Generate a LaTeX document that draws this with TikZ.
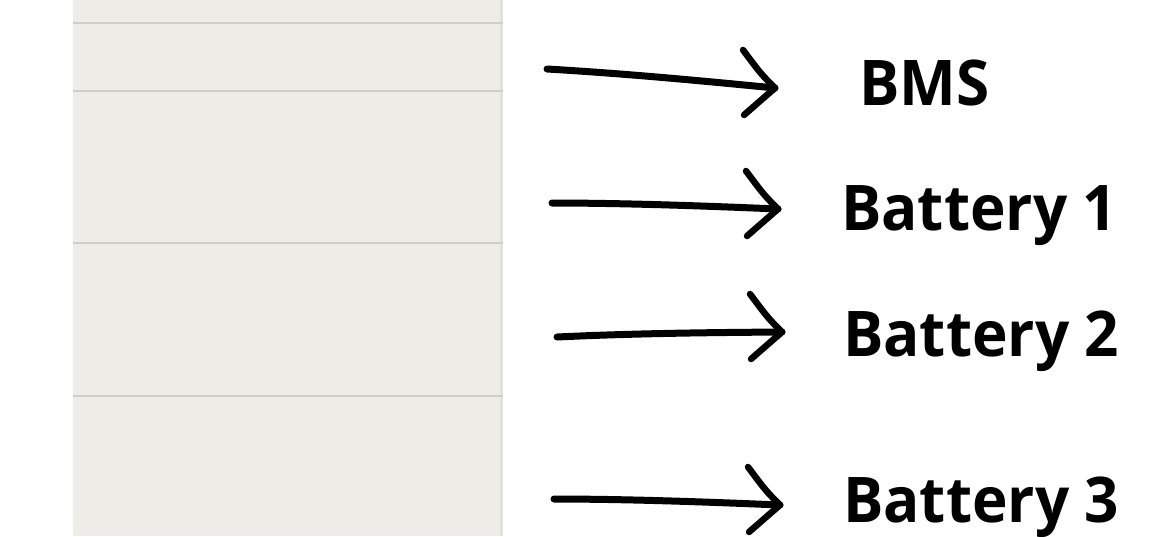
\documentclass[tikz,border=0pt]{standalone}
\usepackage{fontspec}
\setmainfont{Open Sans}
\definecolor{panelgrey}{HTML}{EDECE6}
\definecolor{paneledge}{HTML}{E3E2DC}
\definecolor{rulegrey}{HTML}{CFCECA}
\tikzset{
	label/.style={anchor=base west,inner sep=0pt,font=\fontsize{63}{63}\selectfont\bfseries},
	shaft/.style={line width=7pt,line cap=round},
	barb/.style={line width=6.5pt,line cap=round}
}
% hand drawn arrow: #1 start, #2 tip
\newcommand\sketcharrow[2]{
	\draw[shaft] (#1) .. controls ($(#1)!0.35!(#2)+(0,-2)$) and ($(#1)!0.7!(#2)+(0,-1)$) .. (#2);
	\draw[barb] (#2) .. controls ++(-14,-14) .. ++(-32,-38);
	\draw[barb] (#2) -- ++(-31,27);
}
\newcommand\narrow[1]{\scalebox{0.955}[1]{#1}}
\usetikzlibrary{calc}
\begin{document}
\begin{tikzpicture}[x=1pt,y=-1pt]
	\useasboundingbox (0,0) rectangle (1170,536);
	% panel on the left
	\fill[panelgrey] (73,0) rectangle (503,536);
	\fill[paneledge] (500,0) rectangle (503,536);
	\foreach \y in {23,91,243,396}
	\draw[rulegrey,line width=1.5pt] (73,\y)--(503,\y);
	% arrows
	\coordinate (bmsS) at (547,69);  \coordinate (bmsT) at (775,88);
	\coordinate (batAS) at (552,203); \coordinate (batAT) at (778,209);
	\coordinate (batBS) at (557,337); \coordinate (batBT) at (782,332);
	\coordinate (batCS) at (554,499); \coordinate (batCT) at (780,505);
	\sketcharrow{bmsS}{bmsT}
	\sketcharrow{batAS}{batAT}
	\sketcharrow{batBS}{batBT}
	\sketcharrow{batCS}{batCT}
	% labels
	\node[label] (bms) at (859,105) {\narrow{BMS}};
	\node[label] (batA) at (841,230) {\narrow{Battery 1}};
	\node[label] (batB) at (843,356) {\narrow{Battery 2}};
	\node[label] (batC) at (843,522) {\narrow{Battery 3}};
\end{tikzpicture}
\end{document}
